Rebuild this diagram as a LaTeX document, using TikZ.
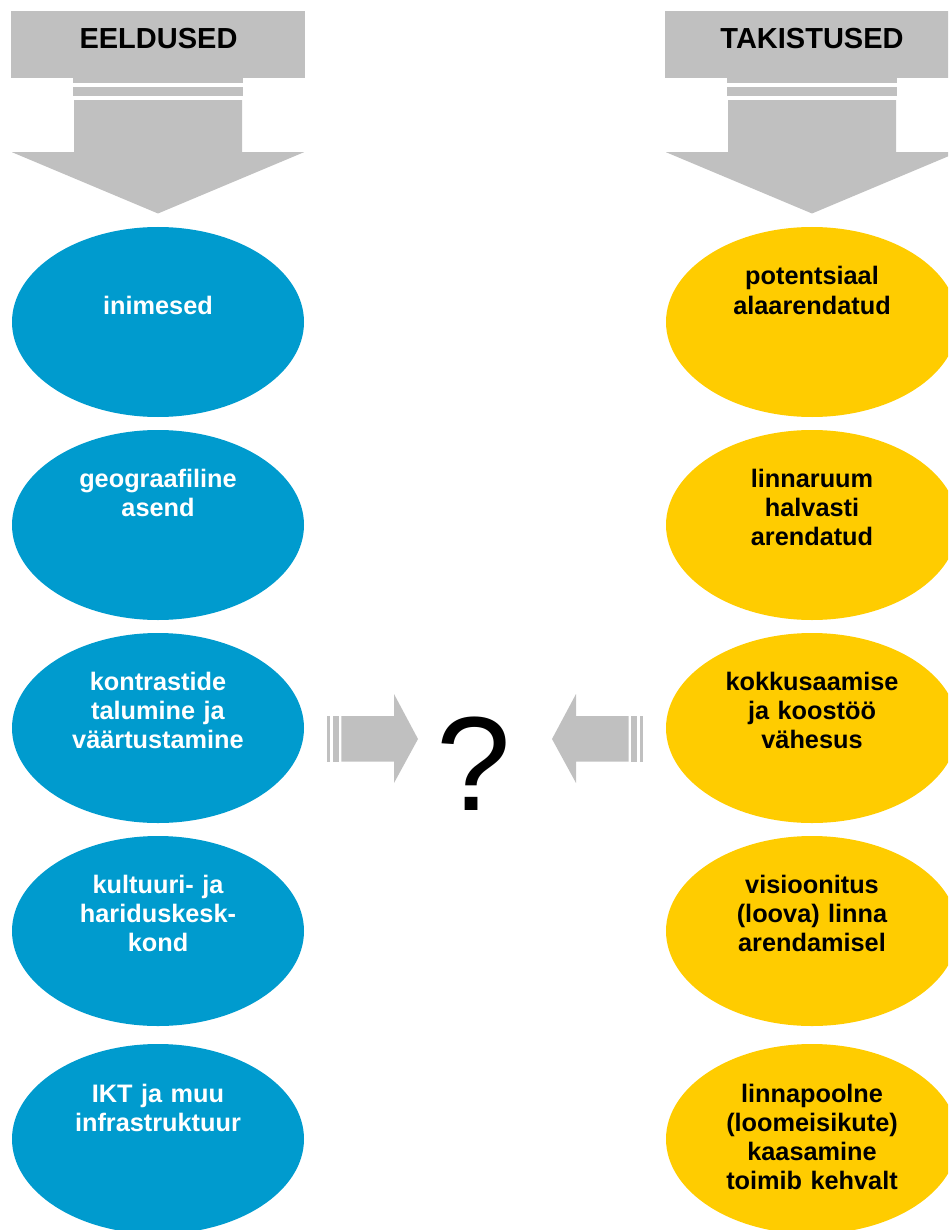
\documentclass[tikz,border=0pt]{standalone}
\usepackage{fontspec}
\setmainfont{Liberation Sans}
\usetikzlibrary{shapes.geometric}

\definecolor{eelblue}{HTML}{009BCE}
\definecolor{takyellow}{HTML}{FFCC00}
\definecolor{arrowgray}{HTML}{C0C0C0}

\begin{document}
\begin{tikzpicture}[x=1pt, y=-1pt,
  headbox/.style={rectangle, fill=arrowgray, minimum width=294pt, minimum height=67.3pt, inner sep=0pt},
  headtext/.style={anchor=base, inner sep=0pt, font=\fontsize{29}{33}\selectfont\bfseries},
  oval/.style={ellipse, minimum width=292pt, minimum height=190pt, inner sep=0pt},
  blueoval/.style={oval, fill=eelblue},
  yellowoval/.style={oval, fill=takyellow},
  ovaltext/.style={anchor=base, text width=280pt, align=center, inner sep=0pt, font=\fontsize{25.3}{29}\selectfont\bfseries},
]
\useasboundingbox (0,0) rectangle (948,1230);
\clip (0,0) rectangle (948,1230);

% headers
\node[headbox] (eeldused) at (158,44.65) {};
\node[headbox] (takistused) at (812,44.65) {};
\node[headtext] at (158.5,49) {EELDUSED};
\node[headtext] at (812,49) {TAKISTUSED};

% big down arrows under the headers
\foreach \col in {eeldused, takistused} {
  \begin{scope}[shift={(\col.south)}]
    \fill[arrowgray] (-85.3,0) rectangle (85.3,5);
    \fill[arrowgray] (-85.3,8.4) rectangle (85.3,17.7);
    \fill[arrowgray] (-84,21.7) -- (84,21.7) -- (84,73.7) -- (146,73.7) -- (0,135) -- (-146,73.7) -- (-84,73.7) -- cycle;
  \end{scope}
}

% eeldused
\node[blueoval] (inimesed) at (158,322) {};
\node[blueoval] (asend) at (158,525) {};
\node[blueoval] (kontrastid) at (158,728) {};
\node[blueoval] (kultuur) at (158,931) {};
\node[blueoval] (ikt) at (158,1139) {};
\node[ovaltext, text=white] at ([yshift=8pt]inimesed.center) {inimesed};
\node[ovaltext, text=white] at ([yshift=38pt]asend.center) {geograafiline\\asend};
\node[ovaltext, text=white] at ([yshift=38pt]kontrastid.center) {kontrastide\\talumine ja\\väärtustamine};
\node[ovaltext, text=white] at ([yshift=38pt]kultuur.center) {kultuuri- ja\\hariduskesk-\\kond};
\node[ovaltext, text=white] at ([yshift=37pt]ikt.center) {IKT ja muu\\infrastruktuur};

% takistused
\node[yellowoval] (potentsiaal) at (812,322) {};
\node[yellowoval] (linnaruum) at (812,525) {};
\node[yellowoval] (koostoo) at (812,728) {};
\node[yellowoval] (visioon) at (812,931) {};
\node[yellowoval] (kaasamine) at (812,1139) {};
\node[ovaltext] at ([yshift=37pt]potentsiaal.center) {potentsiaal\\alaarendatud};
\node[ovaltext] at ([yshift=38pt]linnaruum.center) {linnaruum\\halvasti\\arendatud};
\node[ovaltext] at ([yshift=38pt]koostoo.center) {kokkusaamise\\ja koostöö\\vähesus};
\node[ovaltext] at ([yshift=38pt]visioon.center) {visioonitus\\(loova) linna\\arendamisel};
\node[ovaltext] at ([yshift=37pt]kaasamine.center) {linnapoolne\\(loomeisikute)\\kaasamine\\toimib kehvalt};

% question in the middle
\node[anchor=base, inner sep=0pt, font=\fontsize{134}{140}\selectfont] (frage) at (474,810) {?};

% side arrows
\fill[arrowgray] (326.7,716) rectangle (330,761.7);
\fill[arrowgray] (332.7,716) rectangle (338.7,761.7);
\fill[arrowgray] (341.3,716) -- (394,716) -- (394,694) -- (418,739) -- (394,783) -- (394,761.7) -- (341.3,761.7) -- cycle;
\fill[arrowgray] (640,716) rectangle (643.3,761.7);
\fill[arrowgray] (631.3,716) rectangle (637.3,761.7);
\fill[arrowgray] (628.7,716) -- (576,716) -- (576,694) -- (552,739) -- (576,783) -- (576,761.7) -- (628.7,761.7) -- cycle;
\end{tikzpicture}
\end{document}
